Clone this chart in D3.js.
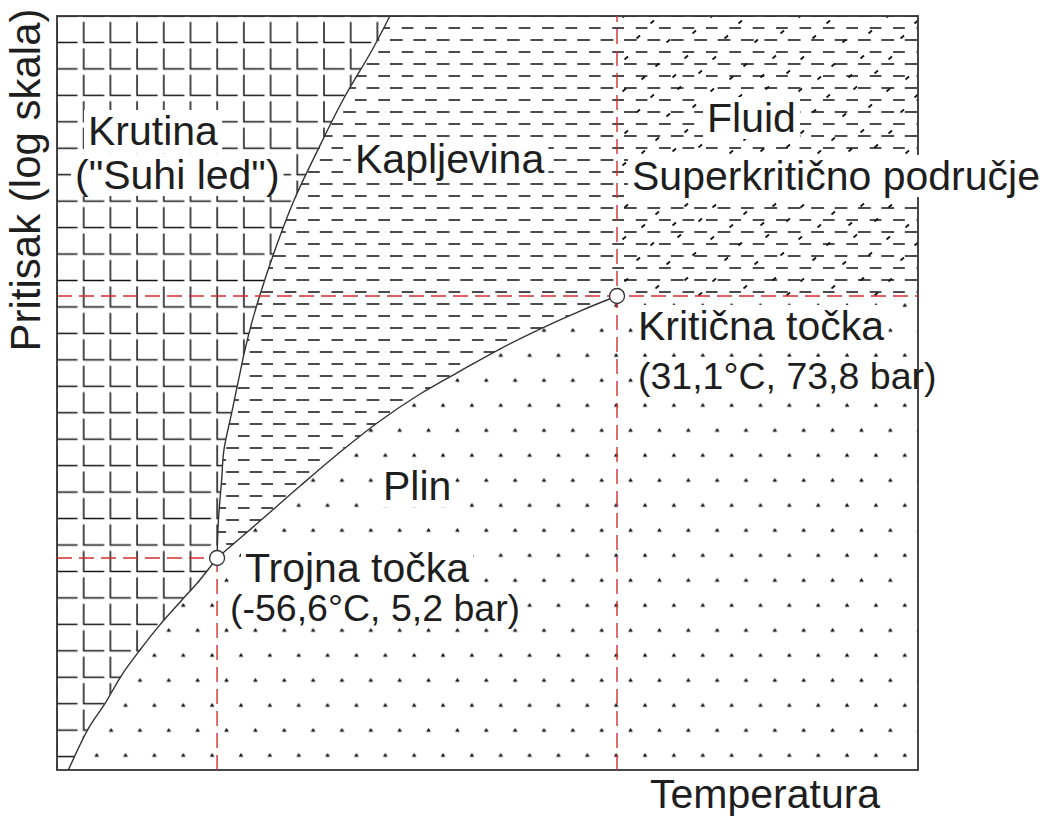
<!DOCTYPE html>
<html>
<head>
<meta charset="utf-8">
<script src="https://cdn.jsdelivr.net/npm/d3@7"></script>
<style>
  body { margin: 0; background: #fff; }
  text { font-family: "Liberation Sans", Arial, sans-serif; fill: #1e1e1e; }
</style>
</head>
<body>
<script>
// CO2 phase boundaries: [temperatura (°C), pritisak (bar)]
const sublimation = [
    [-89.2, 0.608], [-84.8, 0.927], [-81.2, 1.19], [-77.5, 1.59], [-73.5, 2.05],
    [-69.5, 2.59], [-64.3, 3.40], [-60.7, 4.09], [-56.6, 5.2]
];
const melting = [
    [-56.6, 5.2], [-56.3, 7.64], [-55.6, 11.46], [-55.1, 15.5], [-53.4, 22.6],
    [-51.9, 31.5], [-50.5, 42.7], [-49.0, 56.2], [-47.2, 74.6], [-43.9, 117.6],
    [-39.7, 195], [-34.5, 324], [-29.0, 537], [-22.6, 891], [-18.7, 1257]
];
const vaporization = [
    [-56.6, 5.2], [-47.2, 7.56], [-38.4, 10.78], [-29.6, 15.21], [-20.9, 20.82],
    [-12.1, 27.36], [-3.3, 34.53], [5.4, 43.15], [14.2, 52.84], [23.0, 63.4], [31.1, 73.8]
];
const triplePoint = [-56.6, 5.2];
const criticalPoint = [31.1, 73.8];
const tempRange = [-91.7, 97.1];
const pressRange = [0.608, 1257];

const phaseNames = ['Krutina', '("Suhi led")', 'Kapljevina', 'Fluid', 'Superkritično područje', 'Plin'];
const pointNames = ['Trojna točka', '(-56,6°C, 5,2 bar)', 'Kritična točka', '(31,1°C, 73,8 bar)'];
const axisTitles = ['Temperatura', 'Pritisak (log skala)'];

const width = 1054, height = 816;
const box = { left: 57, top: 16, right: 918, bottom: 770 };
const ink = '#111';

const x = d3.scaleLinear().domain(tempRange).range([box.left, box.right]);
const y = d3.scaleLog().domain(pressRange).range([box.bottom, box.top]);

const svg = d3.select('body').append('svg')
    .attr('width', width).attr('height', height);
const defs = svg.append('defs');

// "L" marks for the solid
const pSolid = defs.append('pattern').attr('id', 'solid')
    .attr('patternUnits', 'userSpaceOnUse')
    .attr('x', box.left - 2).attr('y', box.top + 2.45)
    .attr('width', 26.7).attr('height', 26.45);
pSolid.append('path').attr('d', 'M2,3.5V24H22.5')
    .attr('fill', 'none').attr('stroke', ink).attr('stroke-width', 1.5);

// brick dashes for the liquid (and fluid)
const pDash = defs.append('pattern').attr('id', 'dash')
    .attr('patternUnits', 'userSpaceOnUse')
    .attr('x', 62.4).attr('y', box.top - 6)
    .attr('width', 23.4).attr('height', 24);
pDash.append('path').attr('d', 'M0,6H12.8M11.7,18H23.4')
    .attr('fill', 'none').attr('stroke', ink).attr('stroke-width', 1.5);

// small dots for the gas
const pDots = defs.append('pattern').attr('id', 'dots')
    .attr('patternUnits', 'userSpaceOnUse')
    .attr('x', 60.84).attr('y', 42.5)
    .attr('width', 28.86).attr('height', 50);
pDots.append('path').attr('d', 'M4.6,14.2L7,10.6L9.4,14.2ZM19,39.2L21.4,35.6L23.8,39.2Z')
    .attr('fill', ink);

// scattered ticks for the supercritical fluid
const pTicks = defs.append('pattern').attr('id', 'ticks')
    .attr('patternUnits', 'userSpaceOnUse')
    .attr('x', 617).attr('y', 10)
    .attr('width', 88).attr('height', 74);
const tickSpots = [[8, 6], [36, 12], [63, 4], [22, 27], [52, 31], [78, 22], [10, 48], [41, 55], [70, 47], [27, 68], [58, 66], [84, 62]];
pTicks.selectAll('path').data(tickSpots).join('path')
    .attr('d', d => `M${d[0] - 2.5},${d[1] + 1.5}L${d[0] + 1},${d[1] - 1.5}`)
    .attr('stroke', ink).attr('stroke-width', 1.8).attr('fill', 'none');

const line = d3.line()
    .x(d => x(d[0])).y(d => y(d[1]))
    .curve(d3.curveCatmullRom.alpha(0.5));

const asL = s => s.replace(/^M/, 'L');
const xL = x(tempRange[0]), xR = x(tempRange[1]);
const yT = y(pressRange[1]), yB = y(pressRange[0]);
const xc = x(criticalPoint[0]), yc = y(criticalPoint[1]);

const subPath = line(sublimation);
const meltPath = line(melting);
const vapPath = line(vaporization);
const vapRev = line(vaporization.slice().reverse());

const regions = svg.append('g');
// solid
regions.append('path')
    .attr('d', subPath + asL(meltPath) + `L${xL},${yT}L${xL},${yB}Z`)
    .attr('fill', 'url(#solid)');
// liquid
regions.append('path')
    .attr('d', meltPath + `L${xc},${yT}L${xc},${yc}` + asL(vapRev) + 'Z')
    .attr('fill', 'url(#dash)');
// gas
regions.append('path')
    .attr('d', subPath + asL(vapPath) + `L${xR},${yc}L${xR},${yB}Z`)
    .attr('fill', 'url(#dots)');
// supercritical fluid
regions.append('rect')
    .attr('x', xc).attr('y', yT).attr('width', xR - xc).attr('height', yc - yT)
    .attr('fill', 'url(#dash)');
regions.append('rect')
    .attr('x', xc).attr('y', yT).attr('width', xR - xc).attr('height', yc - yT)
    .attr('fill', 'url(#ticks)');

const bgLayer = svg.append('g');
const frame = svg.append('g');
const lateBg = svg.append('g');
const marks = svg.append('g');
const textLayer = svg.append('g');

function label(str, tx, ty, size, layer) {
    const t = textLayer.append('text')
        .attr('x', tx).attr('y', ty)
        .attr('font-size', size)
        .text(str);
    if (layer) {
        const b = t.node().getBBox();
        layer.append('rect')
            .attr('x', b.x - 4).attr('y', b.y + 2)
            .attr('width', b.width + 8).attr('height', b.height - 4)
            .attr('fill', '#fff');
    }
    return t;
}

label(phaseNames[0], 88, 145, 41, bgLayer);
label(phaseNames[1], 75, 189, 41, bgLayer);
label(phaseNames[2], 355, 173, 41, bgLayer);
label(phaseNames[3], 707, 132, 41, bgLayer);
label(phaseNames[4], 632, 190, 41, lateBg);
label(phaseNames[5], 383, 500, 41, bgLayer);
label(pointNames[0], 245, 582, 41, bgLayer);
label(pointNames[1], 230, 621, 37.5, bgLayer);
label(pointNames[2], 638, 340, 41, bgLayer);
label(pointNames[3], 638, 389, 37.5, bgLayer);
label(axisTitles[0], 650, 808, 41, null);
textLayer.append('text')
    .attr('transform', `translate(40,${(box.top + box.bottom) / 2 - 213}) rotate(-90)`)
    .attr('text-anchor', 'middle')
    .attr('font-size', 42)
    .text(axisTitles[1]);

frame.append('rect')
    .attr('x', box.left).attr('y', box.top)
    .attr('width', box.right - box.left).attr('height', box.bottom - box.top)
    .attr('fill', 'none').attr('stroke', '#333').attr('stroke-width', 1.8);

// phase boundary curves
[sublimation, melting, vaporization].forEach(pts => {
    frame.append('path').attr('d', line(pts))
        .attr('fill', 'none').attr('stroke', '#333').attr('stroke-width', 1.4);
});

// red guide lines through the triple and critical points
const guides = [
    [[tempRange[0], triplePoint[1]], triplePoint],
    [[triplePoint[0], pressRange[0]], triplePoint],
    [[tempRange[0], criticalPoint[1]], [tempRange[1], criticalPoint[1]]],
    [[criticalPoint[0], pressRange[0]], [criticalPoint[0], pressRange[1]]]
];
marks.selectAll('line.guide').data(guides).join('line')
    .attr('class', 'guide')
    .attr('x1', d => x(d[0][0])).attr('y1', d => y(d[0][1]))
    .attr('x2', d => x(d[1][0])).attr('y2', d => y(d[1][1]))
    .attr('stroke', '#d42e2e').attr('stroke-width', 1.4)
    .attr('stroke-dasharray', '15,7');

marks.selectAll('circle').data([triplePoint, criticalPoint]).join('circle')
    .attr('cx', d => x(d[0])).attr('cy', d => y(d[1]))
    .attr('r', 7.5)
    .attr('fill', '#fff').attr('stroke', '#333').attr('stroke-width', 1.3);
</script>
</body>
</html>
